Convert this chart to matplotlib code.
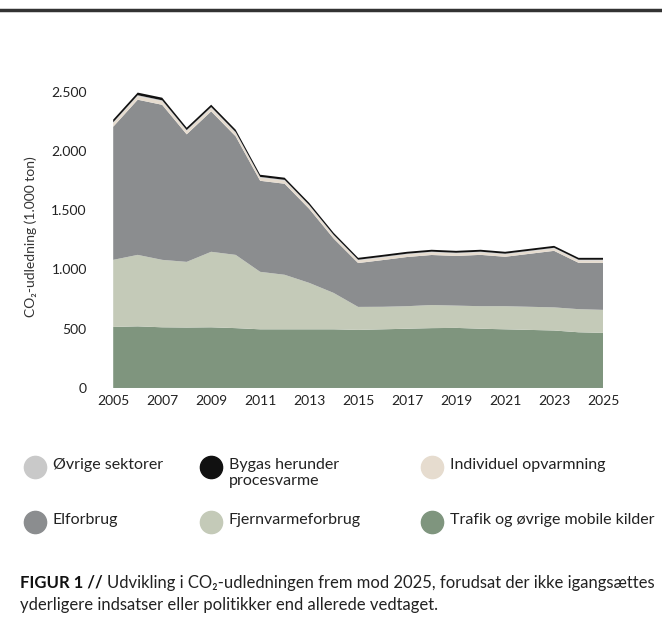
import matplotlib.pyplot as plt
from matplotlib.lines import Line2D
from matplotlib.ticker import FuncFormatter

plt.rcParams['font.family'] = ['Lato', 'DejaVu Sans']

# Data (1.000 ton CO2)
years = list(range(2005, 2026))
trafik = [515, 520, 512, 510, 512, 505, 495, 495, 495, 495, 490, 495, 500, 505, 507, 500, 495, 490, 485, 470, 465]
fjernvarme_top = [1081, 1123, 1081, 1064, 1149, 1123, 980, 955, 887, 802, 684, 685, 690, 700, 695, 690, 690, 685, 680, 665, 659]
total = [2264, 2492, 2449, 2196, 2390, 2179, 1799, 1774, 1562, 1309, 1098, 1123, 1149, 1166, 1157, 1166, 1149, 1174, 1199, 1098, 1098]
individuel = [30, 30, 30, 28, 28, 28, 26, 26, 25, 24, 22, 22, 22, 22, 21, 21, 20, 20, 20, 20, 20]
oevrige = [8, 8, 8, 8, 8, 8, 7, 7, 7, 7, 6, 6, 6, 6, 6, 6, 6, 6, 6, 6, 6]
bygas = [22, 22, 22, 20, 20, 20, 18, 18, 18, 17, 16, 16, 16, 16, 16, 16, 16, 16, 16, 16, 16]

fjernvarme = [f - t for f, t in zip(fjernvarme_top, trafik)]
elforbrug = [tot - f - i - o - b for tot, f, i, o, b in zip(total, fjernvarme_top, individuel, oevrige, bygas)]

colors = {
    'trafik': '#7f957e',
    'fjernvarme': '#c4cab8',
    'elforbrug': '#8b8d8f',
    'individuel': '#e6dccf',
    'oevrige': '#c9c9c9',
    'bygas': '#111111',
}

W, H = 662, 635
fig = plt.figure(figsize=(W / 100, H / 100), dpi=100)

# top rule
fig.add_artist(Line2D([0, 1], [0.984, 0.984], color='#333333', linewidth=2.5))

ax = fig.add_axes([0.171, 0.389, 0.740, 0.476])
ax.stackplot(years, trafik, fjernvarme, elforbrug, individuel, oevrige, bygas,
             colors=[colors['trafik'], colors['fjernvarme'], colors['elforbrug'],
                     colors['individuel'], colors['oevrige'], colors['bygas']],
             linewidth=0)
ax.set_xlim(2005, 2025)
ax.set_ylim(0, 2550)
ax.set_xticks(range(2005, 2026, 2))
ax.set_yticks([0, 500, 1000, 1500, 2000, 2500])
ax.yaxis.set_major_formatter(FuncFormatter(lambda v, p: f'{int(v):,}'.replace(',', '.')))
for s in ax.spines.values():
    s.set_visible(False)
ax.tick_params(length=0, labelsize=10, colors='#222222')
ax.tick_params(axis='x', pad=5)
ax.tick_params(axis='y', pad=19)
ax.set_ylabel('CO₂-udledning (1.000 ton)', fontsize=10, color='#333333', labelpad=10)

# legend
legend_items = [
    (35, 467, colors['oevrige'], 'Øvrige sektorer'),
    (211, 467, colors['bygas'], 'Bygas herunder\nprocesvarme'),
    (432, 467, colors['individuel'], 'Individuel opvarmning'),
    (35, 522, colors['elforbrug'], 'Elforbrug'),
    (211, 522, colors['fjernvarme'], 'Fjernvarmeforbrug'),
    (432, 522, colors['trafik'], 'Trafik og øvrige mobile kilder'),
]
for x, y, c, label in legend_items:
    fig.add_artist(Line2D([x / W], [1 - y / H], marker='o', markersize=16,
                          color=c, linestyle='none'))
    fig.text((x + 18) / W, 1 - (y - 9) / H, label, fontsize=11.5, va='top',
             ha='left', color='#222222', linespacing=1.15)

# caption
bold = fig.text(20 / W, 1 - 583 / H, 'FIGUR 1 //', fontsize=12, fontweight='bold',
                va='center', color='#111111')
fig.canvas.draw()
bb = bold.get_window_extent()
fig.text((bb.x1 + 4) / W, 1 - 583 / H,
         'Udvikling i CO₂-udledningen frem mod 2025, forudsat der ikke igangsættes',
         fontsize=12, va='center', color='#222222')
fig.text(20 / W, 1 - 605 / H, 'yderligere indsatser eller politikker end allerede vedtaget.',
         fontsize=12, va='center', color='#222222')

fig.savefig('out.png', dpi=100)
